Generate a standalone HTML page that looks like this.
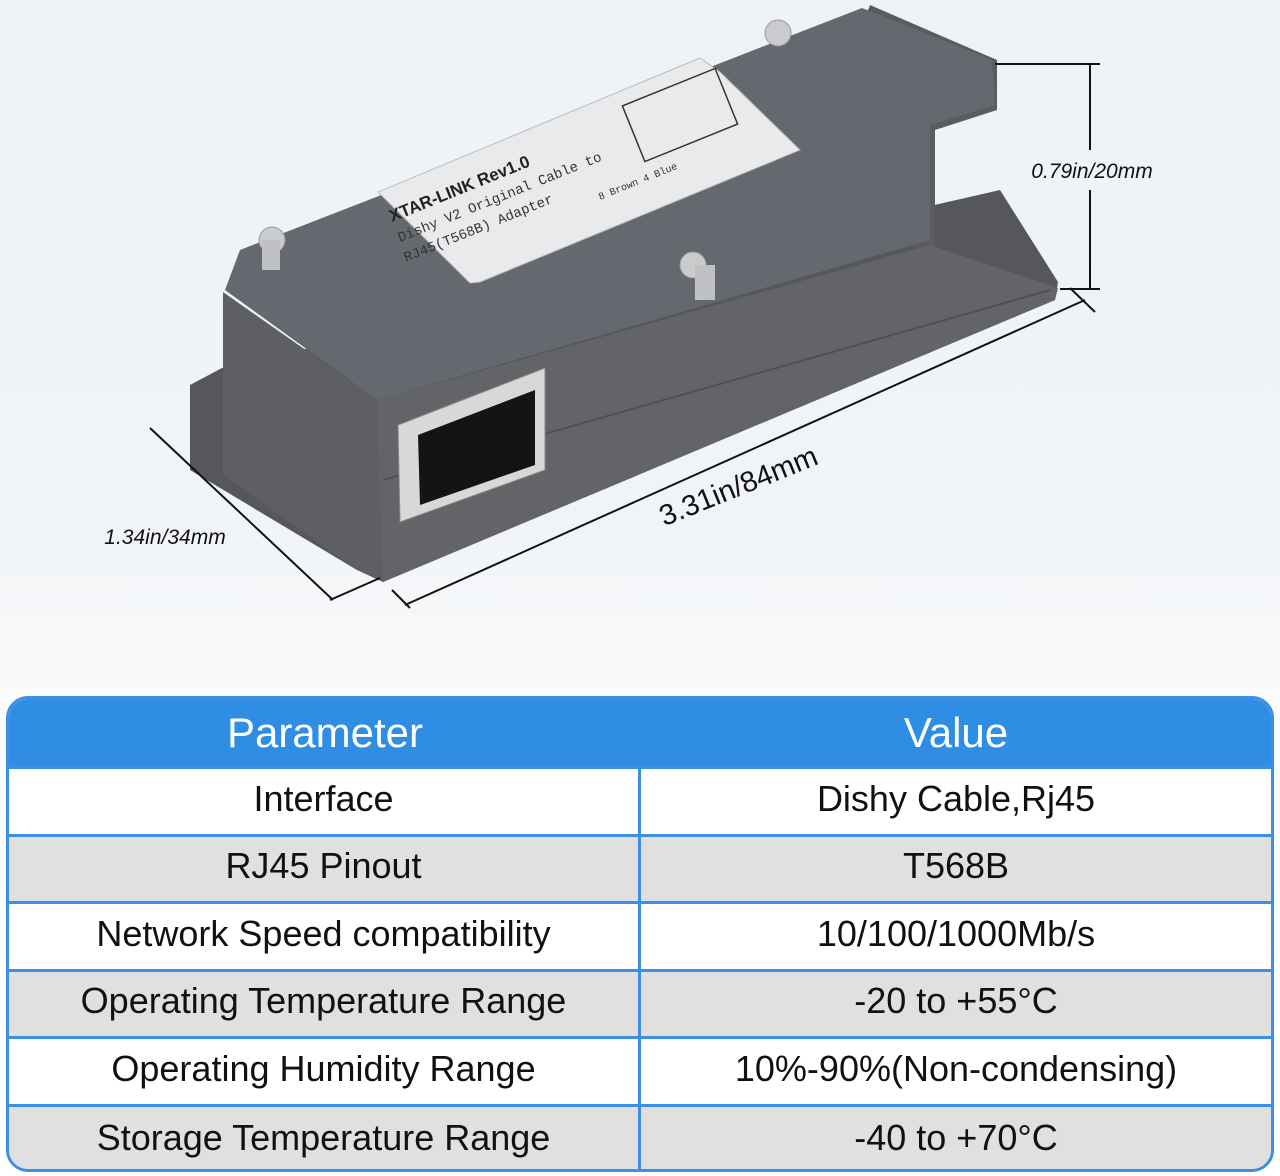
<!DOCTYPE html>
<html><head><meta charset="utf-8"><style>
html,body{margin:0;padding:0;}
body{width:1280px;height:1176px;position:relative;overflow:hidden;background:linear-gradient(180deg,#eef2f6 0%,#f1f4f7 45%,#fafbfc 60%,#fff 100%);font-family:"Liberation Sans",sans-serif;}
svg.dev{position:absolute;left:0;top:0;}
.tbl{position:absolute;left:6px;top:696px;width:1262px;height:470px;border:3px solid #3c8fe2;border-radius:22px;overflow:hidden;background:#fff;}
.row{position:absolute;left:0;width:100%;display:flex;border-top:3px solid #3c8fe2;box-sizing:border-box;}
.row div{display:flex;align-items:center;justify-content:center;font-size:36px;color:#111;padding-bottom:6px;box-sizing:border-box;}
.row div:first-child{width:632px;border-right:3px solid #3c8fe2;}
.row div:last-child{flex:1;}
.hdr{position:absolute;left:0;top:0;width:100%;height:67px;background:#2f8de4;display:flex;}
.hdr div{display:flex;align-items:center;justify-content:center;color:#fff;font-size:42px;}
.g{background:#e0e0e0;}
</style></head><body>
<svg class="dev" width="1280" height="690" viewBox="0 0 1280 690">
<polygon points="190,385 222,368 1000,190 1058,282 1055,300 383,582 357,570 190,470" fill="#55575b"/>
<polygon points="870,5 997,60 997,110 935,130 935,255 900,240 860,30" fill="#5a5c60"/>
<polygon points="225,290 240,250 862,8 992,60 995,105 930,125 930,240 377,400" fill="#666870"/>
<polygon points="223,292 377,400 383,580 357,570 223,475" fill="#5d5f63"/>
<polygon points="377,400 930,245 1058,288 1055,300 383,582" fill="#626468"/>
<line x1="383" y1="480" x2="1050" y2="290" stroke="#4e5054" stroke-width="2"/>
<polygon points="378,192 700,58 720,72 800,150 480,282 470,283" fill="#e9eaeb" stroke="#bbb" stroke-width="1"/>
<text x="392" y="222" font-family="Liberation Sans" font-size="17" font-weight="bold" fill="#222" transform="rotate(-22 392 222)">XTAR-LINK  Rev1.0</text>
<text x="400" y="242" font-family="Liberation Mono" font-size="14" fill="#333" transform="rotate(-22 400 242)">Dishy V2 Original Cable to</text>
<text x="406" y="262" font-family="Liberation Mono" font-size="14" fill="#333" transform="rotate(-22 406 262)">RJ45(T568B) Adapter</text>
<text x="600" y="200" font-family="Liberation Mono" font-size="10" fill="#333" transform="rotate(-22 600 200)">8 Brown  4 Blue</text>
<rect x="630" y="85" width="100" height="60" fill="none" stroke="#333" stroke-width="1.5" transform="rotate(-22 680 115)"/>
<circle cx="778" cy="33" r="13" fill="#c9cbcd" stroke="#999"/>
<circle cx="272" cy="240" r="13" fill="#c9cbcd" stroke="#999"/>
<rect x="262" y="240" width="18" height="30" fill="#bfc1c3"/>
<circle cx="693" cy="265" r="13" fill="#c9cbcd" stroke="#999"/>
<rect x="695" y="265" width="20" height="35" fill="#bfc1c3"/>
<polygon points="398,425 545,368 545,470 400,522" fill="#d8d8d6" stroke="#888"/>
<polygon points="418,435 535,390 535,465 420,505" fill="#141414"/>
<g stroke="#111" stroke-width="2" fill="none">
<line x1="995" y1="64" x2="1100" y2="64"/>
<line x1="1090" y1="64" x2="1090" y2="150"/>
<line x1="1090" y1="190" x2="1090" y2="289"/>
<line x1="1060" y1="289" x2="1100" y2="289"/>
<line x1="1070" y1="288" x2="1095" y2="312"/>
<line x1="1085" y1="300" x2="405" y2="605"/>
<line x1="392" y1="590" x2="410" y2="608"/>
<line x1="150" y1="428" x2="333" y2="600"/>
<line x1="330" y1="600" x2="380" y2="578"/>
</g>
<text x="1092" y="178" text-anchor="middle" font-family="Liberation Sans" font-style="italic" font-size="21" fill="#111">0.79in/20mm</text>
<text x="742" y="495" text-anchor="middle" font-family="Liberation Sans" font-size="29" fill="#111" transform="rotate(-22 742 495)">3.31in/84mm</text>
<text x="165" y="544" text-anchor="middle" font-family="Liberation Sans" font-style="italic" font-size="21" fill="#111">1.34in/34mm</text>
</svg>
<div class="tbl">
<div class="hdr"><div style="width:632px">Parameter</div><div style="flex:1">Value</div></div>
<div class="row" style="top:67px;height:68px"><div>Interface</div><div>Dishy Cable,Rj45</div></div>
<div class="row g" style="top:135px;height:67px"><div>RJ45 Pinout</div><div>T568B</div></div>
<div class="row" style="top:202px;height:68px"><div>Network Speed compatibility</div><div>10/100/1000Mb/s</div></div>
<div class="row g" style="top:270px;height:67px"><div>Operating Temperature Range</div><div>-20 to +55°C</div></div>
<div class="row" style="top:337px;height:68px"><div>Operating Humidity Range</div><div>10%-90%(Non-condensing)</div></div>
<div class="row g" style="top:405px;height:70px"><div>Storage Temperature Range</div><div>-40 to +70°C</div></div>
</div>
</body></html>
